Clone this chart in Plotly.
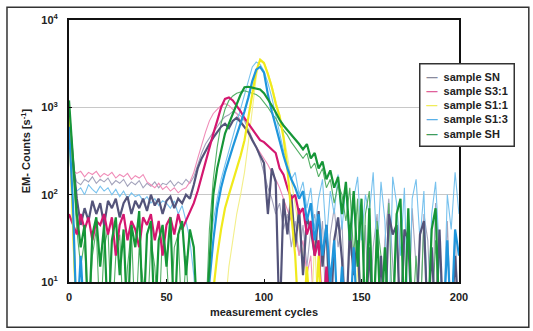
import plotly.graph_objects as go

# Measurement cycles, sampled every second cycle (0 .. 200)
CYCLES = list(range(0, 201, 2))

SAMPLES = ["sample SN", "sample S3:1", "sample S1:1", "sample S1:3", "sample SH"]

# EM counts [1/s]; values below 10 are off-scale (drawn to the bottom axis)
SN_A = [
    900, 250, 90, 45, 70, 50, 85, 60, 80, 45,
    85, 70, 90, 55, 80, 95, 60, 85, 70, 90,
    65, 100, 75, 90, 60, 85, 95, 70, 90, 80,
    100, 90, 130, 200, 260, 320, 380, 450, 520, 600,
    650, 580, 700, 760, 680, 600, 520, 420, 350, 280,
    230, 60, 200, 140, 3, 90, 35, 100, 25, 70,
    12, 55, 40, 20, 65, 15, 45, 3, 30, 55,
    18, 3, 40, 12, 30, 3, 3, 25, 3, 3,
    20, 3, 60, 35, 45, 3, 40, 30, 3, 3,
    35, 50, 3, 25, 3, 40, 3, 3, 3, 20,
    3,
]
SN_B = [
    700, 200, 140, 130, 150, 140, 160, 135, 150, 140,
    155, 130, 145, 135, 150, 125, 140, 130, 145, 120,
    135, 125, 140, 120, 135, 130, 145, 125, 140, 130,
    150, 135, 160, 220, 300, 380, 450, 520, 600, 700,
    780, 820, 900, 850, 800, 700, 560, 450, 350, 260,
    180, 120, 90, 60, 80, 40, 60, 25, 50, 20,
    45, 15, 40, 60, 20, 50, 3, 35, 70, 25,
    50, 3, 30, 80, 20, 3, 45, 3, 25, 60,
    3, 30, 90, 20, 3, 50, 25, 3, 70, 15,
    3, 60, 30, 3, 80, 20, 3, 50, 3, 40,
    3,
]
S31_A = [
    60, 45, 35, 60, 40, 55, 30, 50, 45, 60,
    35, 55, 20, 45, 60, 30, 50, 40, 25, 55,
    45, 60, 30, 50, 20, 45, 55, 35, 60, 40,
    50, 65, 80, 110, 160, 250, 350, 500, 700, 1000,
    1250, 1300, 1200, 1050, 900, 750, 650, 550, 480, 420,
    400, 360, 330, 300, 200, 170, 120, 90, 100, 60,
    70, 35, 50, 20, 30, 3, 15, 3, 3, 3,
    3, 3, 3, 3, 3, 3, 3, 3, 3, 3,
    3, 3, 3, 3, 3, 3, 3, 3, 3, 3,
    3, 3, 3, 3, 3, 3, 3, 3, 3, 3,
    3,
]
S31_B = [
    500, 190, 175, 185, 160, 180, 170, 185, 160, 175,
    165, 180, 155, 170, 160, 175, 150, 165, 155, 170,
    140, 130, 120, 135, 115, 125, 110, 120, 105, 115,
    120, 140, 180, 260, 380, 520, 700, 850, 950, 1050,
    1100, 1050, 950, 850, 700, 600, 500, 420, 360, 300,
    260, 220, 180, 150, 120, 90, 70, 50, 35, 20,
    30, 12, 20, 3, 10, 3, 3, 3, 3, 3,
    3, 3, 3, 3, 3, 3, 3, 3, 3, 3,
    3, 3, 3, 3, 3, 3, 3, 3, 3, 3,
    3, 3, 3, 3, 3, 3, 3, 3, 3, 3,
    3,
]
S11_A = [
    900, 40, 3, 3, 3, 3, 3, 3, 3, 3,
    3, 3, 3, 3, 3, 3, 3, 3, 3, 3,
    3, 3, 3, 3, 3, 3, 3, 3, 3, 3,
    3, 3, 3, 3, 3, 3, 3, 8, 20, 40,
    70, 100, 140, 200, 280, 420, 800, 1500, 2600, 3500,
    3200, 2400, 1700, 1100, 800, 450, 200, 60, 20, 3,
    3, 15, 3, 3, 20, 3, 3, 3, 3, 3,
    3, 3, 3, 3, 3, 3, 3, 3, 3, 3,
    3, 3, 3, 3, 3, 3, 3, 3, 3, 3,
    3, 3, 3, 3, 3, 3, 3, 3, 3, 3,
    3,
]
S11_B = [
    800, 30, 3, 3, 3, 3, 3, 3, 3, 3,
    3, 3, 3, 3, 3, 3, 3, 3, 3, 3,
    3, 3, 3, 3, 3, 3, 3, 3, 3, 3,
    3, 3, 3, 3, 3, 3, 3, 3, 3, 3,
    5, 15, 30, 60, 100, 180, 400, 1000, 2200, 3600,
    3300, 2500, 1800, 1200, 800, 500, 280, 150, 80, 40,
    20, 10, 3, 30, 3, 3, 3, 3, 3, 3,
    3, 3, 3, 3, 15, 3, 3, 20, 3, 3,
    3, 3, 3, 3, 3, 3, 3, 3, 3, 3,
    3, 3, 3, 3, 3, 3, 3, 3, 3, 3,
    3,
]
S13_A = [
    600, 80, 3, 20, 3, 3, 3, 3, 3, 3,
    3, 3, 3, 3, 3, 3, 3, 3, 3, 3,
    3, 3, 3, 3, 3, 3, 3, 3, 3, 3,
    3, 3, 3, 3, 3, 3, 10, 30, 70, 120,
    180, 260, 350, 480, 650, 900, 1300, 2000, 2700, 2900,
    2500, 1400, 900, 600, 400, 280, 200, 150, 120, 90,
    110, 50, 80, 30, 60, 20, 45, 10, 30, 3,
    15, 3, 3, 25, 3, 3, 3, 3, 3, 3,
    3, 3, 3, 3, 3, 3, 3, 3, 3, 3,
    3, 3, 3, 3, 3, 3, 3, 30, 3, 40,
    20,
]
S13_B = [
    550, 160, 110, 120, 100, 130, 115, 105, 125, 110,
    120, 100, 115, 95, 110, 90, 105, 95, 100, 85,
    95, 80, 90, 75, 85, 80, 70, 85, 60, 75,
    50, 30, 12, 3, 3, 5, 20, 50, 90, 150,
    220, 320, 450, 650, 950, 1400, 2100, 2900, 3300, 3100,
    2600, 1900, 1300, 800, 500, 320, 220, 150, 180, 100,
    140, 70, 120, 40, 90, 150, 30, 110, 60, 170,
    40, 130, 20, 90, 160, 30, 100, 60, 180, 20,
    140, 50, 3, 160, 80, 20, 120, 3, 90, 150,
    30, 110, 3, 60, 140, 20, 3, 100, 40, 180,
    60,
]
SH_A = [
    1200, 300, 60, 25, 45, 3, 35, 55, 15, 45,
    3, 30, 55, 12, 40, 3, 45, 25, 65, 3,
    35, 50, 3, 30, 45, 15, 55, 3, 35, 50,
    12, 40, 25, 3, 3, 3, 15, 100, 200, 320,
    500, 650, 850, 1100, 1400, 1700, 1720, 1680, 1650, 1600,
    1450, 1250, 1050, 880, 720, 620, 550, 480, 420, 380,
    330, 380, 260, 300, 200, 240, 150, 190, 120, 160,
    60, 140, 30, 110, 15, 90, 3, 70, 3, 40,
    3, 25, 3, 3, 60, 90, 3, 70, 3, 3,
    3, 3, 3, 40, 70, 3, 3, 3, 3, 3,
    3,
]
SH_B = [
    1100, 200, 40, 15, 30, 3, 20, 40, 3, 25,
    40, 3, 20, 35, 3, 15, 40, 3, 25, 10,
    3, 30, 15, 3, 40, 20, 3, 25, 35, 3,
    20, 3, 3, 3, 3, 3, 40, 150, 350, 650,
    950, 1200, 1350, 1450, 1500, 1550, 1500, 1450, 1400, 1300,
    1150, 1000, 850, 750, 620, 550, 480, 400, 350, 300,
    260, 300, 200, 230, 160, 200, 120, 150, 80, 130,
    100, 50, 120, 20, 90, 3, 60, 110, 3, 50,
    20, 3, 80, 3, 40, 3, 3, 60, 3, 20,
    3, 50, 3, 3, 30, 3, 3, 3, 3, 3,
    3,
]

THICK = [SN_A, S31_A, S11_A, S13_A, SH_A]
THIN = [SN_B, S31_B, S11_B, S13_B, SH_B]
COL_THICK = ["#54547a", "#d4176f", "#f0ea1c", "#1f96dc", "#169638"]
COL_THIN = ["#a4a4bc", "#f08cb8", "#f3ef8a", "#78c2ee", "#55b066"]
COL_LEGEND = ["#8a8a9c", "#e0609a", "#f0ec5a", "#5ab0e8", "#3f9c5c"]

FONT = "Liberation Sans, Arial, sans-serif"

fig = go.Figure()

for name, ys, col in zip(SAMPLES, THIN, COL_THIN):
    fig.add_trace(go.Scatter(x=CYCLES, y=ys, mode="lines", showlegend=False,
                             line=dict(color=col, width=1.1), hoverinfo="skip"))

for name, ys, col in zip(SAMPLES, THICK, COL_THICK):
    fig.add_trace(go.Scatter(x=CYCLES, y=ys, mode="lines", showlegend=False,
                             line=dict(color=col, width=2.2), name=name))

# compact legend box: coloured dash + sample name per line
legend_lines = [
    f"<span style='color:{col}'>\u2014</span>  {name}"
    for name, col in zip(SAMPLES, COL_LEGEND)
]
legend_text = "<b>" + "<br>".join(legend_lines) + "</b>"

YTICKS = [10, 100, 1000, 10000]
YTEXT = ["<b>10<sup>1</sup></b>", "<b>10<sup>2</sup></b>",
         "<b>10<sup>3</sup></b>", "<b>10<sup>4</sup></b>"]
XTICKS = [0, 50, 100, 150, 200]

fig.update_layout(
    width=533, height=331,
    margin=dict(l=69, r=74, t=16, b=49),
    paper_bgcolor="white", plot_bgcolor="white",
    showlegend=False,
    font=dict(family=FONT, size=11, color="#222"),
    xaxis=dict(range=[0, 200], tickvals=XTICKS,
               ticktext=[f"<b>{v}</b>" for v in XTICKS],
               showgrid=False, zeroline=False,
               showline=True, linecolor="#111", linewidth=2, mirror=True,
               ticks="inside", ticklen=3, tickcolor="#111",
               ticklabelstandoff=4,
               tickfont=dict(size=11, family=FONT),
               title=dict(text="<b>measurement cycles</b>", standoff=6,
                          font=dict(size=11, family=FONT))),
    yaxis=dict(type="log", range=[1, 4], tickvals=YTICKS, ticktext=YTEXT,
               showgrid=True, gridcolor="#c8c8c8", gridwidth=1,
               zeroline=False,
               showline=True, linecolor="#111", linewidth=2, mirror=True,
               ticks="inside", ticklen=3, tickcolor="#111",
               ticklabelstandoff=7,
               tickfont=dict(size=11, family=FONT),
               title=dict(text="<b>EM- Counts [s<sup>-1</sup>]</b>", standoff=8,
                          font=dict(size=11, family=FONT))),
    annotations=[dict(
        text=legend_text, xref="paper", yref="paper",
        x=0.897, y=0.835, xanchor="left", yanchor="top",
        align="left", showarrow=False,
        bgcolor="white", bordercolor="#333", borderwidth=1.5, borderpad=6,
        font=dict(size=11, family=FONT, color="#222"),
    )],
    shapes=[dict(type="rect", xref="paper", yref="paper",
                 x0=-0.159, x1=1.179, y0=-0.173, y1=1.049,
                 line=dict(color="#333", width=1.5), layer="below")],
)

fig.write_html("out.html")
